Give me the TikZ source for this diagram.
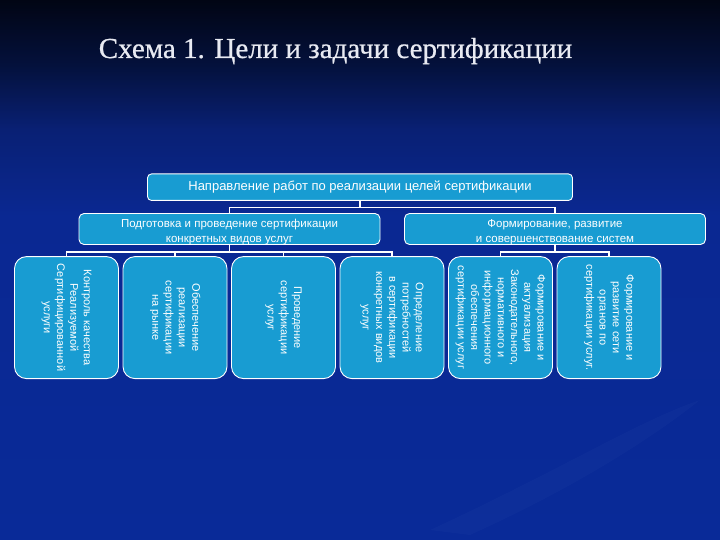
\documentclass[tikz,border=0pt]{standalone}
\usepackage{fontspec}
\usepackage{graphicx}
\usetikzlibrary{calc}
\newfontfamily\sansf{Liberation Sans}
\newfontfamily\titlef[FakeBold=0.6]{Liberation Serif}
\definecolor{boxfill}{RGB}{24,156,210}
\definecolor{titlecol}{RGB}{232,234,242}
\definecolor{bgA}{RGB}{9,42,152}
\definecolor{bgB}{RGB}{10,40,146}
\definecolor{bgC}{RGB}{9,32,116}
\definecolor{bgD}{RGB}{4,17,60}
\definecolor{bgE}{RGB}{1,5,20}
\pgfdeclareverticalshading{bgshade}{100bp}{color(0bp)=(bgA); color(25bp)=(bgA); color(55bp)=(bgB); color(63bp)=(bgC); color(69bp)=(bgD); color(75bp)=(bgE); color(100bp)=(bgE)}
\newcommand\vtext[1]{\rotatebox{-90}{\begin{tabular}{@{}c@{}}#1\end{tabular}}}
\newcommand\midtext[1]{\raisebox{-6.5pt}[0pt][0pt]{\begin{tabular}{@{}c@{}}#1\end{tabular}}}
\begin{document}
\begin{tikzpicture}[x=1pt,y=-1pt,
  titlestyle/.style={text=titlecol, font=\titlef\fontsize{29}{32}\selectfont, inner sep=0pt, anchor=base},
  boxbase/.style={draw=white, line width=0.9pt, fill=boxfill, text=white, inner sep=0pt, align=center},
  topbox/.style={boxbase, rounded corners=4pt, minimum width=425pt, minimum height=26.5pt, font=\sansf\fontsize{13}{15}\selectfont},
  midbox/.style={boxbase, rounded corners=5pt, minimum width=301pt, minimum height=31pt, font=\sansf\fontsize{11.5}{15}\selectfont},
  botbox/.style={boxbase, rounded corners=12pt, minimum width=104pt, minimum height=122pt, font=\sansf\fontsize{11}{13.3}\selectfont},
  link/.style={draw=white, line width=1.5pt}
]
\shade[shading=bgshade] (0,0) rectangle (720,540);
\useasboundingbox (0,0) rectangle (720,540);
\fill[white, opacity=0.018] (430,530) .. controls (560,470) and (640,420) .. (700,400) .. controls (650,440) and (570,490) .. (470,535) -- cycle;

\node[titlestyle] (title) at (335.5,58) {Схема 1. Цели и задачи сертификации};

\node[topbox] (top) at (360,187.2) {Направление работ по реализации целей сертификации};
\node[midbox] (lm) at (229.5,229) {\midtext{Подготовка и проведение сертификации\\конкретных видов услуг}};
\node[midbox] (rm) at (555,229) {\midtext{Формирование, развитие\\и совершенствование систем}};

\node[botbox] (b1) at (66.5,317.6) {\vtext{Контроль качества\\Реализуемой\\Сертифицированной\\услуги}};
\node[botbox] (b2) at (175,317.6) {\vtext{Обеспечение\\реализации\\сертификации\\на рынке}};
\node[botbox] (b3) at (283.5,317.6) {\vtext{Проведение\\сертификации\\услуг}};
\node[botbox] (b4) at (392,317.6) {\vtext{Определение\\потребностей\\в сертификации\\конкретных видов\\услуг}};
\node[botbox] (b5) at (500.5,317.6) {\vtext{Формирование и\\актуализация\\Законодательного,\\нормативного и\\информационного\\обеспечения\\сертификации услуг}};
\node[botbox] (b6) at (609,317.6) {\vtext{Формирование и\\развитие сети\\органов по\\сертификации услуг.}};

\coordinate (j1) at ($(top.south)+(0,6.8)$);
\coordinate (j2) at ($(lm.south)+(0,6.8)$);
\coordinate (j3) at ($(rm.south)+(0,6.8)$);

\draw[link] (top.south) -- (j1);
\draw[link] (j1) -| (lm.north);
\draw[link] (j1) -| (rm.north);

\draw[link] (lm.south) -- (j2);
\draw[link] (j2) -| (b1.north);
\draw[link] (j2) -| (b2.north);
\draw[link] (j2) -| (b3.north);
\draw[link] (j2) -| (b4.north);

\draw[link] (rm.south) -- (j3);
\draw[link] (j3) -| (b5.north);
\draw[link] (j3) -| (b6.north);
\end{tikzpicture}
\end{document}
